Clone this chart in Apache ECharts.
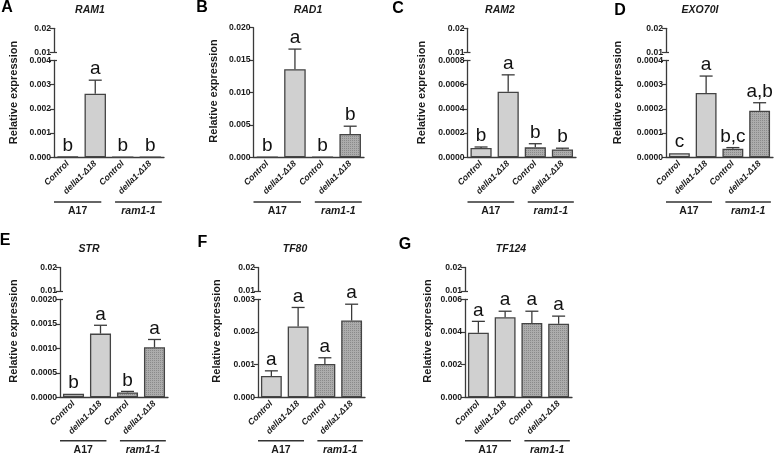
<!DOCTYPE html>
<html><head><meta charset="utf-8">
<script src="https://cdn.jsdelivr.net/npm/echarts@6/dist/echarts.min.js"></script>
<style>html,body{margin:0;padding:0;background:#fff}#c{width:777px;height:456px}</style>
</head><body><div id="c"></div>
<script>
// ---------- DATA ----------
const categories = ['Control', 'della1-Δ18', 'Control', 'della1-Δ18'];
const groupNames = ['A17', 'ram1-1'];
const panelLetters = ['A', 'B', 'C', 'D', 'E', 'F', 'G'];
const genes = ['RAM1', 'RAD1', 'RAM2', 'EXO70I', 'STR', 'TF80', 'TF124'];

const ram1Mean = [0.00003, 0.00262, 0.000003, 0.000003];
const ram1Sem = [0.000005, 0.00056, 0, 0];
const ram1Letters = ['b', 'a', 'b', 'b'];

const rad1Mean = [0.00006, 0.0136, 0.00008, 0.0036];
const rad1Sem = [0.00002, 0.0031, 0.00002, 0.0012];
const rad1Letters = ['b', 'a', 'b', 'b'];

const ram2Mean = [0.000077, 0.00054, 0.000082, 0.000065];
const ram2Sem = [0.000008, 0.00014, 0.00003, 0.00001];
const ram2Letters = ['b', 'a', 'b', 'b'];

const exo70iMean = [0.000017, 0.000265, 0.000035, 0.000192];
const exo70iSem = [0.000003, 0.00007, 0.000005, 0.000033];
const exo70iLetters = ['c', 'a', 'b,c', 'a,b'];

const strMean = [0.00007, 0.0013, 0.0001, 0.00102];
const strSem = [0.00001, 0.00017, 0.00002, 0.00016];
const strLetters = ['b', 'a', 'b', 'a'];

const tf80Mean = [0.00065, 0.00217, 0.00102, 0.00235];
const tf80Sem = [0.00016, 0.00058, 0.00019, 0.0005];
const tf80Letters = ['a', 'a', 'a', 'a'];

const tf124Mean = [0.00395, 0.0049, 0.00455, 0.0045];
const tf124Sem = [0.0007, 0.00037, 0.00072, 0.00047];
const tf124Letters = ['a', 'a', 'a', 'a'];

const upperTicks = [0.01, 0.02];
const lowerMax = [0.004, 0.020, 0.0008, 0.0004, 0.0020, 0.003, 0.006];
const lowerStep = [0.001, 0.005, 0.0002, 0.0001, 0.0005, 0.001, 0.002];
const lowerDecimals = [3, 3, 4, 4, 4, 3, 3];
const hasBreak = [true, false, true, true, true, true, true];

const means = [ram1Mean, rad1Mean, ram2Mean, exo70iMean, strMean, tf80Mean, tf124Mean];
const sems = [ram1Sem, rad1Sem, ram2Sem, exo70iSem, strSem, tf80Sem, tf124Sem];
const letters = [ram1Letters, rad1Letters, ram2Letters, exo70iLetters, strLetters, tf80Letters, tf124Letters];

// ---------- LAYOUT ----------
const layout = [
  {l: 54,    r: 164, uTop: 28.3, uBot: 52.3, top: 60.3, bot: 157.3, title: [90, 10.5],  letter: [7, 7.5],   yname: [13.5, 92.5], gy: 202},
  {l: 253.5, r: 364, uTop: 0,    uBot: 0,    top: 27.7, bot: 157.3, title: [308, 10.5], letter: [202, 7.5], yname: [213.5, 91], gy: 202},
  {l: 467.5, r: 576, uTop: 28.3, uBot: 52.3, top: 60.3, bot: 157.3, title: [500, 10.5], letter: [398, 8.5], yname: [421.7, 92.5], gy: 202},
  {l: 666,   r: 773, uTop: 28.3, uBot: 52.3, top: 60.3, bot: 157.3, title: [700, 10.5], letter: [620, 10.5], yname: [618.3, 92.5], gy: 202},
  {l: 60,    r: 168, uTop: 267.5, uBot: 291, top: 299.3, bot: 397.3, title: [89, 249.5], letter: [5, 241], yname: [13.5, 331], gy: 440.7},
  {l: 258,   r: 365, uTop: 267.5, uBot: 291, top: 299.3, bot: 397.3, title: [295, 249.5], letter: [202.5, 243], yname: [216.7, 331], gy: 440.7},
  {l: 465,   r: 572, uTop: 267.5, uBot: 291, top: 299.3, bot: 397.3, title: [511, 249.5], letter: [405, 245], yname: [428.3, 331], gy: 440.7}
];

const FONT = '"Liberation Sans", Arial, sans-serif';
const AX = '#3a3a3a';
const TXT = '#1a1a1a';

// dotted pattern for ram1-1 bars
const pc = document.createElement('canvas');
pc.width = 2; pc.height = 2;
const pctx = pc.getContext('2d');
pctx.fillStyle = '#acacac'; pctx.fillRect(0, 0, 2, 2);
pctx.fillStyle = '#8a8a8a'; pctx.fillRect(0, 0, 1, 1);
const patternFill = {image: pc, repeat: 'repeat'};
const lightFill = '#d0d0d0';

const grid = [], xAxis = [], yAxis = [], series = [], graphic = [];

layout.forEach((L, p) => {
  const dec = lowerDecimals[p];
  const gi = grid.length;
  grid.push({left: L.l, top: L.top, width: L.r - L.l, height: L.bot - L.top, containLabel: false});
  const xi = xAxis.length;
  xAxis.push({
    type: 'category', gridIndex: gi, data: categories,
    axisLine: {lineStyle: {color: AX, width: 1.3}},
    axisTick: {alignWithLabel: true, length: 3, lineStyle: {color: AX, width: 1}},
    axisLabel: {interval: 0, rotate: 45, margin: 5, fontFamily: FONT, fontSize: 8.7, fontWeight: 'bold', fontStyle: 'italic', color: TXT},
    splitLine: {show: false}
  });
  const yi = yAxis.length;
  yAxis.push({
    type: 'value', gridIndex: gi, min: 0, max: lowerMax[p], interval: lowerStep[p],
    axisLine: {show: true, lineStyle: {color: AX, width: 1.3}},
    axisTick: {show: true, length: 4, lineStyle: {color: AX, width: 1.2}},
    axisLabel: {margin: 3, fontFamily: FONT, fontSize: 8.6, fontWeight: 'bold', color: TXT,
      formatter: v => v.toFixed(dec)},
    splitLine: {show: false}
  });
  if (hasBreak[p]) {
    yAxis.push({
      type: 'value', gridIndex: gi, min: 0, max: lowerMax[p], interval: lowerStep[p], position: 'left',
      axisLine: {show: false}, axisLabel: {show: false}, splitLine: {show: false},
      axisTick: {show: true, inside: true, length: 3, customValues: [lowerMax[p]], lineStyle: {color: AX, width: 1.2}}
    });
    const gu = grid.length;
    grid.push({left: L.l, top: L.uTop, width: L.r - L.l, height: L.uBot - L.uTop, containLabel: false});
    xAxis.push({type: 'category', gridIndex: gu, data: categories, show: false});
    yAxis.push({
      type: 'value', gridIndex: gu, min: upperTicks[0], max: upperTicks[1], interval: 0.01,
      axisLine: {show: true, lineStyle: {color: AX, width: 1.3}},
      axisTick: {show: true, length: 4, lineStyle: {color: AX, width: 1.2}},
      axisLabel: {margin: 3, fontFamily: FONT, fontSize: 8.6, fontWeight: 'bold', color: TXT, formatter: v => v.toFixed(2)},
      splitLine: {show: false}
    });
    yAxis.push({
      type: 'value', gridIndex: gu, min: upperTicks[0], max: upperTicks[1], interval: 0.01, position: 'left',
      axisLine: {show: false}, axisLabel: {show: false}, splitLine: {show: false},
      axisTick: {show: true, inside: true, length: 3, customValues: [upperTicks[0]], lineStyle: {color: AX, width: 1.2}}
    });
  }
  series.push({
    type: 'bar', xAxisIndex: xi, yAxisIndex: yi, barCategoryGap: '22%',
    data: means[p].map((v, i) => ({value: v, itemStyle: {color: i < 2 ? lightFill : patternFill}})),
    itemStyle: {borderColor: '#444', borderWidth: 1.3},
    emphasis: {disabled: true}, silent: true, z: 2
  });
  const lt = letters[p];
  series.push({
    type: 'custom', xAxisIndex: xi, yAxisIndex: yi, clip: false, z: 5, silent: true,
    data: means[p].map((v, i) => [i, v, sems[p][i]]),
    renderItem: (params, api) => {
      const i = api.value(0), m = api.value(1), s = api.value(2);
      const p0 = api.coord([i, m]);
      const p1 = api.coord([i, m + s]);
      const ch = [];
      if (p0[1] - p1[1] > 0.8) {
        ch.push({type: 'line', shape: {x1: p0[0], y1: p0[1], x2: p1[0], y2: p1[1]}, style: {stroke: '#3a3a3a', lineWidth: 1.3}});
        ch.push({type: 'line', shape: {x1: p1[0] - 6.5, y1: p1[1], x2: p1[0] + 6.5, y2: p1[1]}, style: {stroke: '#3a3a3a', lineWidth: 1.3}});
      }
      ch.push({type: 'text', style: {text: lt[params.dataIndex], x: p1[0], y: p1[1] - 1.5, align: 'center', verticalAlign: 'bottom',
        font: '19px ' + FONT, fill: '#111'}});
      return {type: 'group', children: ch};
    }
  });

  graphic.push({type: 'text', x: L.letter[0], y: L.letter[1], style: {text: panelLetters[p], font: 'bold 16px ' + FONT, fill: '#000', align: 'center', verticalAlign: 'middle'}});
  graphic.push({type: 'text', x: L.title[0], y: L.title[1], style: {text: genes[p], font: 'italic bold 10.5px ' + FONT, fill: TXT, align: 'center', verticalAlign: 'middle'}});
  graphic.push({type: 'text', x: L.yname[0], y: L.yname[1], rotation: Math.PI / 2, style: {text: 'Relative expression', font: 'bold 11px ' + FONT, fill: TXT, align: 'center', verticalAlign: 'middle'}});
  const w = L.r - L.l;
  const segs = [[L.l, L.l + 0.43 * w], [L.l + 0.555 * w, L.l + 0.98 * w]];
  segs.forEach((sg, k) => {
    graphic.push({type: 'line', shape: {x1: sg[0], y1: L.gy, x2: sg[1], y2: L.gy}, style: {stroke: '#333', lineWidth: 1.5}});
    graphic.push({type: 'text', x: (sg[0] + sg[1]) / 2, y: L.gy + 9, style: {text: groupNames[k], font: (k === 1 ? 'italic ' : '') + 'bold 10.5px ' + FONT, fill: TXT, align: 'center', verticalAlign: 'middle'}});
  });
});

const chart = echarts.init(document.getElementById('c'), null, {renderer: 'canvas'});
chart.setOption({animation: false, backgroundColor: '#fff', grid, xAxis, yAxis, series, graphic});
</script>
</body></html>
